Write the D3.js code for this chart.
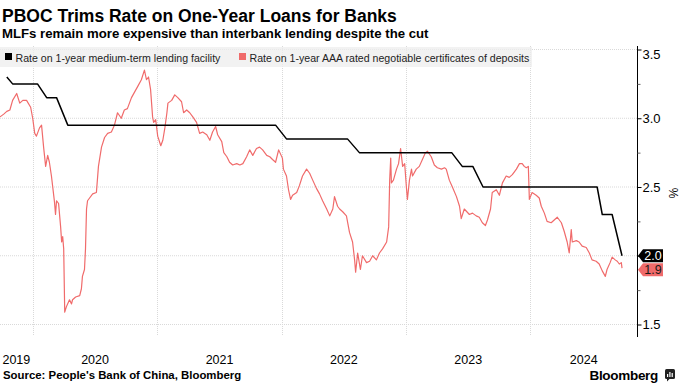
<!DOCTYPE html>
<html><head><meta charset="utf-8">
<script src="https://cdn.jsdelivr.net/npm/d3@7"></script>
<style>body{margin:0;background:#fff} svg{display:block}</style>
</head><body><svg id="c" width="680" height="383"></svg>
<script>
const titleText = "PBOC Trims Rate on One-Year Loans for Banks";
const subtitleText = "MLFs remain more expensive than interbank lending despite the cut";
const sourceText = "Source: People's Bank of China, Bloomberg";
const seriesNames = ["Rate on 1-year medium-term lending facility", "Rate on 1-year AAA rated negotiable certificates of deposits"];
const seriesColors = ["#000000", "#f06b6b"];
const unitLabel = "%";

const mlfDates = ["2019-10-17","2019-11-03","2020-01-15","2020-02-11","2020-03-11","2020-04-13","2021-12-14","2022-01-15","2022-07-13","2022-08-17","2023-05-15","2023-06-15","2023-07-16","2023-08-15","2024-07-15","2024-07-30","2024-08-28","2024-09-26"];
const mlfValues = [3.30,3.25,3.25,3.15,3.15,2.95,2.95,2.85,2.85,2.75,2.75,2.65,2.65,2.50,2.50,2.30,2.30,2.00];

const ncdDates = ["2019-09-27","2019-10-08","2019-10-17","2019-10-26","2019-11-03","2019-11-15","2019-11-24","2019-12-03","2019-12-14","2019-12-26",
"2020-01-01","2020-01-07","2020-01-12","2020-01-21","2020-01-27","2020-02-02","2020-02-08","2020-02-14","2020-02-19","2020-02-25",
"2020-03-05","2020-03-08","2020-03-11","2020-03-17","2020-03-23","2020-03-26","2020-03-29","2020-04-01","2020-04-04","2020-04-09",
"2020-04-18","2020-04-24","2020-04-27","2020-05-06","2020-05-18","2020-05-23","2020-05-26","2020-06-01","2020-06-04","2020-06-07",
"2020-06-10","2020-06-16","2020-06-25","2020-07-06","2020-07-12","2020-07-21","2020-07-30","2020-08-08","2020-08-19","2020-08-28",
"2020-09-06","2020-09-17","2020-09-26","2020-10-05","2020-10-17","2020-10-26","2020-11-04","2020-11-15","2020-11-24","2020-11-30",
"2020-12-06","2020-12-12","2020-12-18","2020-12-21","2020-12-27","2021-01-02","2021-01-11","2021-01-17","2021-01-23","2021-01-29",
"2021-02-01","2021-02-12","2021-02-21","2021-03-02","2021-03-13","2021-03-19","2021-03-28","2021-04-06","2021-04-15","2021-04-26",
"2021-05-05","2021-05-14","2021-05-26","2021-06-04","2021-06-12","2021-06-21","2021-06-27","2021-07-09","2021-07-15","2021-07-24",
"2021-08-01","2021-08-10","2021-08-22","2021-08-31","2021-09-09","2021-09-20","2021-09-29","2021-10-08","2021-10-19","2021-10-28",
"2021-11-06","2021-11-18","2021-11-27","2021-12-05","2021-12-14","2021-12-23","2022-01-03","2022-01-06","2022-01-15","2022-01-21",
"2022-01-27","2022-02-02","2022-02-14","2022-02-22","2022-03-03","2022-03-15","2022-03-24","2022-04-02","2022-04-13","2022-04-22",
"2022-05-01","2022-05-13","2022-05-22","2022-05-31","2022-06-05","2022-06-14","2022-06-20","2022-06-29","2022-07-10","2022-07-19",
"2022-07-28","2022-08-03","2022-08-06","2022-08-12","2022-08-20","2022-08-26","2022-09-07","2022-09-16","2022-09-25","2022-10-06",
"2022-10-15","2022-10-24","2022-11-05","2022-11-11","2022-11-14","2022-11-17","2022-11-19","2022-11-25","2022-12-04","2022-12-10",
"2022-12-16","2022-12-22","2022-12-28","2023-01-02","2023-01-05","2023-01-11","2023-01-17","2023-01-20","2023-01-31","2023-02-09",
"2023-02-18","2023-02-27","2023-03-05","2023-03-16","2023-03-25","2023-04-03","2023-04-15","2023-04-24","2023-04-29","2023-05-08",
"2023-05-17","2023-05-29","2023-06-07","2023-06-12","2023-06-21","2023-07-06","2023-07-15","2023-07-26","2023-08-04","2023-08-13",
"2023-08-22","2023-08-28","2023-09-06","2023-09-11","2023-09-23","2023-10-02","2023-10-11","2023-10-22","2023-10-31","2023-11-09",
"2023-11-21","2023-11-30","2023-12-08","2023-12-14","2023-12-20","2023-12-26","2023-12-29","2024-01-06","2024-01-18","2024-01-27",
"2024-02-02","2024-02-11","2024-02-19","2024-03-02","2024-03-11","2024-03-20","2024-04-01","2024-04-09","2024-04-18","2024-04-24",
"2024-04-30","2024-05-03","2024-05-15","2024-05-23","2024-06-01","2024-06-13","2024-06-22","2024-06-30","2024-07-12","2024-07-21",
"2024-07-30","2024-08-08","2024-08-13","2024-08-22","2024-08-28","2024-09-06","2024-09-12","2024-09-18","2024-09-24","2024-09-26"];
const ncdValues = [3.01,3.03,3.05,3.06,3.13,3.18,3.11,3.13,3.13,3.08,
3.00,2.89,2.87,2.93,2.95,2.79,2.65,2.73,2.68,2.58,
2.39,2.30,2.40,2.38,2.21,2.10,2.14,2.05,1.59,1.63,
1.68,1.65,1.68,1.70,1.71,1.76,1.85,1.90,2.05,2.34,
2.40,2.42,2.45,2.46,2.65,2.79,2.86,2.89,2.90,2.95,
3.04,3.00,3.06,3.07,3.15,3.19,3.23,3.28,3.35,3.28,
3.30,3.21,3.01,2.97,2.99,2.87,2.80,2.84,2.93,3.04,
3.11,3.13,3.17,3.15,3.12,3.04,3.06,3.04,3.01,2.97,
2.89,2.90,2.88,2.84,2.90,2.94,2.88,2.83,2.75,2.72,
2.68,2.66,2.67,2.66,2.67,2.72,2.77,2.73,2.78,2.79,
2.77,2.73,2.72,2.70,2.68,2.77,2.71,2.63,2.58,2.48,
2.41,2.44,2.46,2.51,2.58,2.63,2.60,2.55,2.49,2.45,
2.40,2.34,2.29,2.34,2.43,2.36,2.34,2.32,2.29,2.17,
2.10,1.97,1.88,2.02,1.90,2.00,1.95,1.96,2.00,1.97,
2.02,2.05,2.10,2.21,2.55,2.71,2.53,2.55,2.63,2.67,
2.78,2.65,2.67,2.50,2.41,2.55,2.63,2.58,2.63,2.65,
2.70,2.75,2.76,2.72,2.66,2.64,2.63,2.64,2.63,2.55,
2.50,2.43,2.36,2.27,2.34,2.30,2.31,2.29,2.28,2.24,
2.22,2.26,2.34,2.46,2.48,2.44,2.53,2.58,2.57,2.59,
2.63,2.67,2.67,2.65,2.64,2.65,2.41,2.46,2.44,2.42,
2.36,2.31,2.25,2.24,2.26,2.28,2.24,2.18,2.10,2.02,
2.19,2.10,2.11,2.10,2.07,2.06,2.02,1.97,1.96,1.94,
1.89,1.85,1.90,1.95,1.99,1.97,1.96,1.94,1.95,1.91];

const yTicks = [1.5, 2.0, 2.5, 3.0, 3.5];
const yMinorTicks = [1.75, 2.25, 2.75, 3.25];
const yearLabels = ["2019","2020","2021","2022","2023","2024"];
const xDomain = ["2019-09-27","2024-11-09"];

const parse = d3.timeParse("%Y-%m-%d");
const svg = d3.select("#c");
const plotL = 0, plotR = 637, plotT = 46, plotB = 337;
const x = d3.scaleTime().domain(xDomain.map(parse)).range([plotL, plotR]);
const y = d3.scaleLinear().domain([1.5, 3.5]).range([324.5, 49.5]);

const font = "'Liberation Sans', Arial, sans-serif";

// titles
svg.append("text").attr("x", 2).attr("y", 21.5).attr("font-family", font).attr("font-weight", "bold")
  .attr("font-size", 17.5).attr("fill", "#000").text(titleText);
svg.append("text").attr("x", 2).attr("y", 38).attr("font-family", font).attr("font-weight", "bold")
  .attr("font-size", 13.2).attr("fill", "#000").text(subtitleText);

// gridlines
const g = svg.append("g");
g.selectAll(".hg").data(yTicks).join("line")
  .attr("x1", plotL).attr("x2", plotR).attr("y1", d => y(d)).attr("y2", d => y(d))
  .attr("stroke", "#d9d9d9").attr("stroke-width", 1).attr("stroke-dasharray", "1,1");
const yearStarts = yearLabels.slice(1).map(s => parse(s + "-01-01"));
g.selectAll(".vg").data(yearStarts).join("line")
  .attr("x1", d => Math.round(x(d)) + 0.5).attr("x2", d => Math.round(x(d)) + 0.5)
  .attr("y1", plotT).attr("y2", plotB - 1)
  .attr("stroke", "#d9d9d9").attr("stroke-width", 1).attr("stroke-dasharray", "1,1");

// legend band
const lg = svg.append("g");
lg.append("rect").attr("x", 0).attr("y", 47).attr("width", 532).attr("height", 20)
  .attr("fill", "#eeeeee").attr("opacity", 0.75);
const legendX = [5, 239];
seriesNames.forEach((n, i) => {
  lg.append("rect").attr("x", legendX[i]).attr("y", 53).attr("width", 7).attr("height", 7).attr("fill", seriesColors[i]);
  lg.append("text").attr("x", legendX[i] + 10.5).attr("y", 61.5).attr("font-family", font)
    .attr("font-size", 10.6).attr("fill", "#222").text(n);
});

// lines
const line = d3.line().x(d => x(d[0])).y(d => y(d[1]));
const ncd = ncdDates.map((d, i) => [parse(d), ncdValues[i]]);
const mlf = mlfDates.map((d, i) => [parse(d), mlfValues[i]]);
svg.append("path").datum(ncd).attr("d", line).attr("fill", "none").attr("stroke", seriesColors[1])
  .attr("stroke-width", 1.2).attr("stroke-linejoin", "round");
svg.append("path").datum(mlf).attr("d", line).attr("fill", "none").attr("stroke", seriesColors[0])
  .attr("stroke-width", 1.5).attr("stroke-linejoin", "round");

// end labels (values of the last points)
const ends = [
  {v: mlfValues[mlfValues.length - 1], fill: "#000", tc: "#fff"},
  {v: ncdValues[ncdValues.length - 1], fill: seriesColors[1], tc: "#1a1a1a"}
];
ends[0].cy = y(ends[0].v);
ends[1].cy = Math.max(y(ends[1].v), ends[0].cy + 14);

// y axis (right); tick labels hidden where an end label sits on top of them
const yAxis = d3.axisRight(y).tickValues(yTicks).tickFormat(d3.format(".1f")).tickSize(4).tickSizeOuter(0);
const ya = svg.append("g").attr("transform", `translate(${plotR + 0.5},0)`).call(yAxis);
ya.select(".domain").attr("d", `M0,${plotT}V${plotB}`).attr("stroke", "#000");
ya.selectAll(".tick line").attr("stroke", "#000");
ya.selectAll(".tick text").attr("font-family", font).attr("font-size", 13).attr("fill", "#000").attr("x", 5);
ya.selectAll(".tick").filter(d => d === 3.5).select("text").attr("dy", "0.75em").attr("y", -1);
ya.selectAll(".tick").filter(d => ends.some(e => Math.abs(y(d) - e.cy) < 12)).select("text").remove();
const yMinor = d3.axisRight(y).tickValues(yMinorTicks).tickFormat("").tickSize(3).tickSizeOuter(0);
const ym = svg.append("g").attr("transform", `translate(${plotR + 0.5},0)`).call(yMinor);
ym.select(".domain").remove();
ym.selectAll(".tick line").attr("stroke", "#666");

svg.append("text").attr("transform", `translate(669,193) rotate(90)`).attr("text-anchor", "middle")
  .attr("font-family", font).attr("font-size", 12).attr("fill", "#000").text(unitLabel);

ends.forEach(e => {
  const top = e.cy - 6.5, bot = e.cy + 6.5;
  svg.append("path").attr("d", `M${plotR + 1},${e.cy}L${plotR + 6},${top}H${plotR + 26}V${bot}H${plotR + 6}Z`).attr("fill", e.fill);
  svg.append("text").attr("x", plotR + 16).attr("y", e.cy + 4.3).attr("text-anchor", "middle")
    .attr("font-family", font).attr("font-size", 12.5).attr("fill", e.tc).text(d3.format(".1f")(e.v));
});

// x labels centred on the visible part of each year
const [d0, d1] = x.domain();
yearLabels.forEach(s => {
  const a = new Date(Math.max(parse(s + "-01-01"), d0));
  const b = new Date(Math.min(parse((+s + 1) + "-01-01"), d1));
  svg.append("text").attr("x", (x(a) + x(b)) / 2).attr("y", 364).attr("text-anchor", "middle")
    .attr("font-family", font).attr("font-size", 12.5).attr("fill", "#000").text(s);
});

// footer
svg.append("text").attr("x", 3).attr("y", 379).attr("font-family", font).attr("font-weight", "bold")
  .attr("font-size", 11.4).attr("fill", "#000").text(sourceText);
svg.append("text").attr("x", 658).attr("y", 380).attr("text-anchor", "end").attr("font-family", font)
  .attr("font-weight", "bold").attr("font-size", 13.5).attr("letter-spacing", -0.3).attr("fill", "#000").text("Bloomberg");
const logo = svg.append("g").attr("transform", "translate(665,369)");
logo.append("rect").attr("width", 10).attr("height", 10).attr("rx", 1.5).attr("fill", "#222");
[[2,5,1.2,3],[4.3,3,1.2,5],[6.6,4,1.2,4]].forEach(b => logo.append("rect").attr("x", b[0]).attr("y", b[1]).attr("width", b[2]).attr("height", b[3]).attr("fill", "#fff"));
logo.append("path").attr("d", "M2,10 L2,12.5 L4.5,10 Z").attr("fill", "#222");
</script>
</body></html>
